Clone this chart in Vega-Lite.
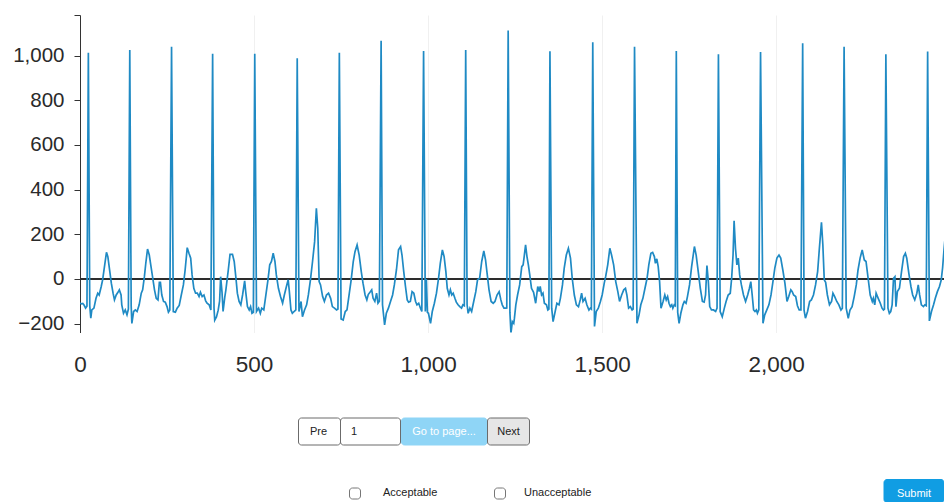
{
  "$schema": "https://vega.github.io/schema/vega-lite/v6.json",
  "padding": {"left": 0, "top": 5, "right": 0, "bottom": 0},
  "spacing": 0,
  "config": {"view": {"stroke": null}, "font": "Liberation Sans"},
  "vconcat": [
    {
      "width": 864,
      "height": 317.5,
      "layer": [
        {
          "data": {"values": [{}]},
          "mark": {"type": "rule", "color": "#2d2d2d", "strokeWidth": 2},
          "encoding": {"y": {"datum": 0, "type": "quantitative"}}
        },
        {
          "data": {"values": [
{"t":0,"v":-108},{"t":4,"v":-112},{"t":8,"v":-110},{"t":12,"v":-118},{"t":16,"v":-131},{"t":20,"v":-122},{"t":24,"v":1013},{"t":28,"v":-120},{"t":31,"v":-176},{"t":34,"v":-139},{"t":40,"v":-131},{"t":46,"v":-87},{"t":51,"v":-64},{"t":55,"v":-72},{"t":61,"v":-34},{"t":65,"v":-4},{"t":71,"v":63},{"t":76,"v":119},{"t":80,"v":100},{"t":85,"v":40},{"t":90,"v":-19},{"t":95,"v":-64},{"t":99,"v":-94},{"t":104,"v":-72},{"t":109,"v":-60},{"t":113,"v":-49},{"t":118,"v":-72},{"t":120,"v":-116},{"t":125,"v":-154},{"t":130,"v":-139},{"t":135,"v":-161},{"t":139,"v":-135},
{"t":143,"v":1025},{"t":147,"v":-120},{"t":149,"v":-199},{"t":154,"v":-146},{"t":159,"v":-139},{"t":164,"v":-146},{"t":170,"v":-116},{"t":176,"v":-64},{"t":180,"v":-49},{"t":185,"v":10},{"t":189,"v":70},{"t":194,"v":134},{"t":199,"v":107},{"t":204,"v":55},{"t":209,"v":3},{"t":214,"v":-49},{"t":219,"v":-87},{"t":224,"v":-94},{"t":228,"v":-15},{"t":231,"v":-15},{"t":235,"v":-72},{"t":240,"v":-101},{"t":245,"v":-104},{"t":250,"v":-124},{"t":254,"v":-149},{"t":258,"v":-139},
{"t":263,"v":1040},{"t":268,"v":-146},{"t":274,"v":-149},{"t":279,"v":-131},{"t":285,"v":-119},{"t":291,"v":-72},{"t":297,"v":-27},{"t":302,"v":40},{"t":308,"v":140},{"t":313,"v":115},{"t":318,"v":93},{"t":322,"v":18},{"t":327,"v":-42},{"t":332,"v":-64},{"t":337,"v":-64},{"t":342,"v":-79},{"t":346,"v":-60},{"t":351,"v":-79},{"t":356,"v":-72},{"t":361,"v":-98},{"t":365,"v":-109},{"t":371,"v":-116},{"t":376,"v":-139},
{"t":381,"v":1008},{"t":385,"v":-130},{"t":387,"v":-185},{"t":392,"v":-170},{"t":397,"v":-140},{"t":401,"v":-100},{"t":404,"v":10},{"t":408,"v":-60},{"t":411,"v":-146},{"t":416,"v":-80},{"t":419,"v":-50},{"t":426,"v":40},{"t":431,"v":110},{"t":438,"v":110},{"t":443,"v":78},{"t":448,"v":3},{"t":452,"v":-64},{"t":457,"v":-101},{"t":462,"v":-116},{"t":467,"v":-72},{"t":473,"v":-9},{"t":476,"v":-57},{"t":481,"v":-124},{"t":486,"v":-139},{"t":490,"v":-124},{"t":494,"v":-154},{"t":498,"v":-150},
{"t":502,"v":1008},{"t":507,"v":-146},{"t":513,"v":-131},{"t":518,"v":-154},{"t":522,"v":-131},{"t":528,"v":-139},{"t":534,"v":-72},{"t":540,"v":-4},{"t":545,"v":63},{"t":550,"v":78},{"t":555,"v":115},{"t":560,"v":78},{"t":564,"v":18},{"t":570,"v":-42},{"t":576,"v":-79},{"t":582,"v":-109},{"t":587,"v":-72},{"t":593,"v":-34},{"t":598,"v":-4},{"t":601,"v":-49},{"t":606,"v":-139},{"t":610,"v":-154},{"t":615,"v":-146},{"t":620,"v":-139},
{"t":624,"v":988},{"t":629,"v":-146},{"t":635,"v":-101},{"t":639,"v":-169},{"t":645,"v":-139},{"t":651,"v":-116},{"t":656,"v":-72},{"t":662,"v":-4},{"t":668,"v":78},{"t":674,"v":167},{"t":679,"v":316},{"t":683,"v":227},{"t":687,"v":-12},{"t":691,"v":-27},{"t":697,"v":-79},{"t":702,"v":-101},{"t":708,"v":-72},{"t":714,"v":-64},{"t":720,"v":-87},{"t":725,"v":-124},{"t":731,"v":-131},{"t":737,"v":-139},{"t":741,"v":-135},
{"t":745,"v":1013},{"t":750,"v":-179},{"t":756,"v":-184},{"t":762,"v":-146},{"t":767,"v":-139},{"t":773,"v":-72},{"t":779,"v":-4},{"t":785,"v":78},{"t":790,"v":122},{"t":796,"v":152},{"t":802,"v":107},{"t":808,"v":33},{"t":813,"v":-19},{"t":819,"v":-72},{"t":824,"v":-94},{"t":828,"v":-70},{"t":833,"v":-60},{"t":838,"v":-49},{"t":842,"v":-87},{"t":847,"v":-101},{"t":852,"v":-64},{"t":856,"v":-109},{"t":860,"v":-100},
{"t":865,"v":1067},{"t":869,"v":-116},{"t":875,"v":-206},{"t":880,"v":-154},{"t":886,"v":-131},{"t":892,"v":-101},{"t":898,"v":-72},{"t":903,"v":-27},{"t":909,"v":40},{"t":915,"v":130},{"t":921,"v":145},{"t":925,"v":107},{"t":930,"v":33},{"t":935,"v":-34},{"t":940,"v":-94},{"t":944,"v":-104},{"t":949,"v":-101},{"t":954,"v":-57},{"t":959,"v":-64},{"t":964,"v":-101},{"t":968,"v":-116},{"t":973,"v":-109},{"t":978,"v":-131},{"t":982,"v":-146},
{"t":987,"v":1021},{"t":992,"v":-146},{"t":995,"v":0},{"t":998,"v":-150},{"t":1001,"v":-154},{"t":1007,"v":-199},{"t":1012,"v":-146},{"t":1018,"v":-109},{"t":1024,"v":-64},{"t":1030,"v":3},{"t":1035,"v":70},{"t":1041,"v":130},{"t":1046,"v":100},{"t":1051,"v":33},{"t":1055,"v":-42},{"t":1060,"v":-72},{"t":1064,"v":-49},{"t":1068,"v":-72},{"t":1072,"v":-64},{"t":1077,"v":-87},{"t":1081,"v":-104},{"t":1086,"v":-116},{"t":1091,"v":-124},{"t":1096,"v":-131},{"t":1100,"v":-116},{"t":1104,"v":-120},
{"t":1108,"v":1025},{"t":1112,"v":-116},{"t":1115,"v":-154},{"t":1120,"v":-131},{"t":1125,"v":-146},{"t":1131,"v":-101},{"t":1137,"v":-57},{"t":1142,"v":-4},{"t":1148,"v":3},{"t":1154,"v":78},{"t":1160,"v":125},{"t":1165,"v":85},{"t":1170,"v":18},{"t":1175,"v":-49},{"t":1181,"v":-101},{"t":1187,"v":-109},{"t":1192,"v":-101},{"t":1198,"v":-72},{"t":1204,"v":-57},{"t":1209,"v":-94},{"t":1213,"v":-116},{"t":1218,"v":-131},{"t":1223,"v":-131},{"t":1226,"v":-130},
{"t":1230,"v":1112},{"t":1235,"v":-150},{"t":1238,"v":-243},{"t":1242,"v":-191},{"t":1246,"v":-199},{"t":1248,"v":-176},{"t":1252,"v":-116},{"t":1257,"v":-72},{"t":1263,"v":-27},{"t":1269,"v":55},{"t":1273,"v":63},{"t":1276,"v":100},{"t":1280,"v":152},{"t":1284,"v":100},{"t":1288,"v":63},{"t":1292,"v":18},{"t":1297,"v":-42},{"t":1303,"v":-60},{"t":1309,"v":-109},{"t":1315,"v":-34},{"t":1319,"v":-57},{"t":1322,"v":-34},{"t":1326,"v":-72},{"t":1330,"v":-64},{"t":1334,"v":-109},{"t":1340,"v":-116},{"t":1344,"v":-139},{"t":1347,"v":-135},
{"t":1350,"v":1020},{"t":1355,"v":-131},{"t":1359,"v":-191},{"t":1365,"v":-146},{"t":1370,"v":-109},{"t":1376,"v":-116},{"t":1380,"v":-87},{"t":1386,"v":-27},{"t":1391,"v":48},{"t":1397,"v":107},{"t":1403,"v":137},{"t":1409,"v":93},{"t":1414,"v":3},{"t":1420,"v":-72},{"t":1426,"v":-116},{"t":1432,"v":-124},{"t":1437,"v":-94},{"t":1441,"v":-64},{"t":1445,"v":-101},{"t":1451,"v":-87},{"t":1456,"v":-116},{"t":1462,"v":-139},{"t":1466,"v":-131},{"t":1469,"v":-135},
{"t":1473,"v":1060},{"t":1478,"v":-213},{"t":1483,"v":-146},{"t":1489,"v":-131},{"t":1495,"v":-101},{"t":1500,"v":-72},{"t":1506,"v":-19},{"t":1510,"v":10},{"t":1516,"v":63},{"t":1522,"v":137},{"t":1527,"v":107},{"t":1533,"v":63},{"t":1539,"v":-12},{"t":1545,"v":-57},{"t":1550,"v":-101},{"t":1556,"v":-72},{"t":1562,"v":-49},{"t":1567,"v":-42},{"t":1571,"v":-72},{"t":1576,"v":-131},{"t":1581,"v":-124},{"t":1586,"v":-139},{"t":1589,"v":-135},
{"t":1593,"v":1040},{"t":1600,"v":-199},{"t":1606,"v":-161},{"t":1611,"v":-116},{"t":1617,"v":-87},{"t":1623,"v":-42},{"t":1629,"v":3},{"t":1634,"v":63},{"t":1640,"v":115},{"t":1645,"v":119},{"t":1650,"v":100},{"t":1653,"v":70},{"t":1657,"v":90},{"t":1661,"v":55},{"t":1665,"v":-12},{"t":1669,"v":-131},{"t":1675,"v":-101},{"t":1680,"v":-72},{"t":1684,"v":-94},{"t":1688,"v":-79},{"t":1692,"v":-109},{"t":1696,"v":-124},{"t":1700,"v":-116},{"t":1703,"v":-131},{"t":1707,"v":-116},{"t":1710,"v":-120},
{"t":1713,"v":1021},{"t":1717,"v":-150},{"t":1721,"v":-199},{"t":1726,"v":-154},{"t":1732,"v":-116},{"t":1736,"v":-101},{"t":1741,"v":-109},{"t":1745,"v":-79},{"t":1751,"v":-27},{"t":1757,"v":55},{"t":1761,"v":100},{"t":1765,"v":145},{"t":1770,"v":107},{"t":1776,"v":33},{"t":1782,"v":-42},{"t":1788,"v":-101},{"t":1793,"v":-104},{"t":1797,"v":-72},{"t":1801,"v":60},{"t":1805,"v":-12},{"t":1809,"v":-124},{"t":1814,"v":-139},{"t":1820,"v":-139},{"t":1826,"v":-146},{"t":1830,"v":-131},
{"t":1834,"v":1006},{"t":1839,"v":-146},{"t":1845,"v":-169},{"t":1851,"v":-131},{"t":1856,"v":-101},{"t":1862,"v":-72},{"t":1868,"v":-64},{"t":1872,"v":3},{"t":1876,"v":107},{"t":1879,"v":260},{"t":1883,"v":137},{"t":1887,"v":63},{"t":1891,"v":93},{"t":1895,"v":18},{"t":1900,"v":-27},{"t":1906,"v":-72},{"t":1912,"v":-101},{"t":1918,"v":-72},{"t":1923,"v":-42},{"t":1927,"v":-12},{"t":1931,"v":-72},{"t":1935,"v":-139},{"t":1939,"v":-146},{"t":1943,"v":-139},{"t":1946,"v":-154},{"t":1950,"v":-139},
{"t":1955,"v":1016},{"t":1962,"v":-199},{"t":1967,"v":-161},{"t":1973,"v":-139},{"t":1979,"v":-116},{"t":1985,"v":-72},{"t":1990,"v":-19},{"t":1996,"v":48},{"t":2002,"v":93},{"t":2008,"v":107},{"t":2013,"v":93},{"t":2019,"v":40},{"t":2025,"v":-19},{"t":2031,"v":-101},{"t":2036,"v":-79},{"t":2042,"v":-49},{"t":2046,"v":-57},{"t":2050,"v":-72},{"t":2056,"v":-79},{"t":2061,"v":-120},{"t":2066,"v":-139},{"t":2071,"v":-139},
{"t":2076,"v":1055},{"t":2080,"v":-140},{"t":2084,"v":-176},{"t":2090,"v":-146},{"t":2096,"v":-101},{"t":2101,"v":-94},{"t":2107,"v":-72},{"t":2113,"v":-27},{"t":2119,"v":33},{"t":2124,"v":137},{"t":2130,"v":254},{"t":2134,"v":152},{"t":2138,"v":-4},{"t":2142,"v":-15},{"t":2147,"v":-72},{"t":2153,"v":-116},{"t":2159,"v":-101},{"t":2163,"v":-64},{"t":2168,"v":-79},{"t":2174,"v":-101},{"t":2180,"v":-116},{"t":2186,"v":-139},{"t":2190,"v":-131},
{"t":2195,"v":1040},{"t":2201,"v":-131},{"t":2207,"v":-176},{"t":2212,"v":-139},{"t":2218,"v":-124},{"t":2224,"v":-79},{"t":2230,"v":-27},{"t":2235,"v":40},{"t":2241,"v":93},{"t":2247,"v":130},{"t":2253,"v":85},{"t":2258,"v":78},{"t":2264,"v":3},{"t":2270,"v":-72},{"t":2276,"v":-101},{"t":2279,"v":-87},{"t":2283,"v":-116},{"t":2287,"v":-64},{"t":2293,"v":-87},{"t":2299,"v":-109},{"t":2304,"v":-131},{"t":2308,"v":-139},{"t":2311,"v":-135},
{"t":2315,"v":1006},{"t":2321,"v":-131},{"t":2325,"v":-154},{"t":2329,"v":-146},{"t":2333,"v":-116},{"t":2337,"v":3},{"t":2341,"v":10},{"t":2344,"v":-124},{"t":2348,"v":-57},{"t":2354,"v":-42},{"t":2360,"v":33},{"t":2366,"v":100},{"t":2371,"v":115},{"t":2375,"v":93},{"t":2381,"v":25},{"t":2387,"v":-34},{"t":2392,"v":-72},{"t":2398,"v":-94},{"t":2404,"v":-64},{"t":2408,"v":-27},{"t":2412,"v":-72},{"t":2417,"v":-116},{"t":2423,"v":-124},{"t":2427,"v":-116},{"t":2431,"v":-120},
{"t":2435,"v":1018},{"t":2440,"v":-188},{"t":2446,"v":-146},{"t":2452,"v":-116},{"t":2457,"v":-87},{"t":2463,"v":-57},{"t":2469,"v":-34},{"t":2474,"v":-5},{"t":2478,"v":50},{"t":2482,"v":130},{"t":2486,"v":200}
          ]},
          "mark": {"type": "line", "color": "#1f8ac4", "strokeWidth": 1.7, "clip": true},
          "encoding": {
            "x": {
              "field": "t", "type": "quantitative",
              "scale": {"domain": [0, 2482], "nice": false, "zero": false},
              "axis": {"values": [0, 500, 1000, 1500, 2000], "format": ",.0f", "domain": false, "ticks": false,
                       "labelFontSize": 22.5, "labelPadding": 21, "labelColor": "#2a2a2a", "labelFont": "Liberation Sans",
                       "gridColor": "#f0f0f0", "title": null, "minExtent": 45, "maxExtent": 45,
                       "labelFlush": false, "labelOverlap": false}
            },
            "y": {
              "field": "v", "type": "quantitative",
              "scale": {"domain": [-240, 1182], "nice": false, "zero": false},
              "axis": {"values": [-200, 0, 200, 400, 600, 800, 1000, 1182],
                       "labelExpr": "datum.value > 1100 ? '' : format(datum.value, ',')",
                       "labelFontSize": 20.5, "labelPadding": 10, "tickSize": 6, "tickColor": "#333333",
                       "domainColor": "#333333", "labelColor": "#2a2a2a", "labelFont": "Liberation Sans",
                       "gridColor": "#f0f0f0", "title": null, "minExtent": 80, "maxExtent": 80,
                       "labelFlush": false, "labelOverlap": false}
            }
          }
        }
      ]
    },
    {
      "width": 864,
      "height": 124.5,
      "layer": [
        {
          "data": {"values": [
            {"kind": "btn", "x0": 298.5, "x1": 340.5, "y0": 417.5, "y1": 444.5},
            {"kind": "btn", "x0": 340.5, "x1": 400.5, "y0": 417.5, "y1": 444.5},
            {"kind": "go", "x0": 401.5, "x1": 487, "y0": 417.5, "y1": 444.5},
            {"kind": "next", "x0": 487.5, "x1": 529.5, "y0": 417.5, "y1": 444.5},
            {"kind": "check", "x0": 349.5, "x1": 360.5, "y0": 487.5, "y1": 498.5},
            {"kind": "check", "x0": 494.5, "x1": 505.5, "y0": 487.5, "y1": 498.5},
            {"kind": "submit", "x0": 884, "x1": 944, "y0": 479, "y1": 502}
          ]},
          "mark": {"type": "rect", "cornerRadius": 3, "strokeWidth": 1},
          "encoding": {
            "x": {"field": "x0", "type": "quantitative", "scale": {"domain": [80, 944], "nice": false, "zero": false}, "axis": null},
            "x2": {"field": "x1"},
            "y": {"field": "y0", "type": "quantitative", "scale": {"domain": [377.5, 502], "nice": false, "zero": false, "reverse": true}, "axis": null},
            "y2": {"field": "y1"},
            "fill": {"field": "kind", "type": "nominal", "legend": null,
                     "scale": {"domain": ["btn", "go", "next", "check", "submit"], "range": ["#ffffff", "#8fd5f6", "#e6e6e6", "#ffffff", "#109de3"]}},
            "stroke": {"field": "kind", "type": "nominal", "legend": null,
                       "scale": {"domain": ["btn", "go", "next", "check", "submit"], "range": ["#6b6b6b", "#8fd5f6", "#6b6b6b", "#767676", "#109de3"]}}
          }
        },
        {
          "data": {"values": [
            {"label": "Pre", "tx": 318.5, "ty": 431, "tone": "dark"},
            {"label": "Go to page...", "tx": 444, "ty": 431, "tone": "light"},
            {"label": "Next", "tx": 508.5, "ty": 431, "tone": "dark"},
            {"label": "Submit", "tx": 914, "ty": 493, "tone": "light"}
          ]},
          "mark": {"type": "text", "align": "center", "baseline": "middle", "fontSize": 11, "font": "Liberation Sans"},
          "encoding": {
            "x": {"field": "tx", "type": "quantitative"},
            "y": {"field": "ty", "type": "quantitative"},
            "text": {"field": "label"},
            "color": {"field": "tone", "type": "nominal", "legend": null,
                      "scale": {"domain": ["dark", "light"], "range": ["#222222", "#ffffff"]}}
          }
        },
        {
          "data": {"values": [
            {"label": "1", "tx": 351, "ty": 431, "tone": "dark"},
            {"label": "Acceptable", "tx": 383, "ty": 492.5, "tone": "dark"},
            {"label": "Unacceptable", "tx": 524, "ty": 492.5, "tone": "dark"}
          ]},
          "mark": {"type": "text", "align": "left", "baseline": "middle", "fontSize": 11, "font": "Liberation Sans"},
          "encoding": {
            "x": {"field": "tx", "type": "quantitative"},
            "y": {"field": "ty", "type": "quantitative"},
            "text": {"field": "label"},
            "color": {"field": "tone", "type": "nominal", "legend": null,
                      "scale": {"domain": ["dark", "light"], "range": ["#222222", "#ffffff"]}}
          }
        }
      ]
    }
  ]
}
